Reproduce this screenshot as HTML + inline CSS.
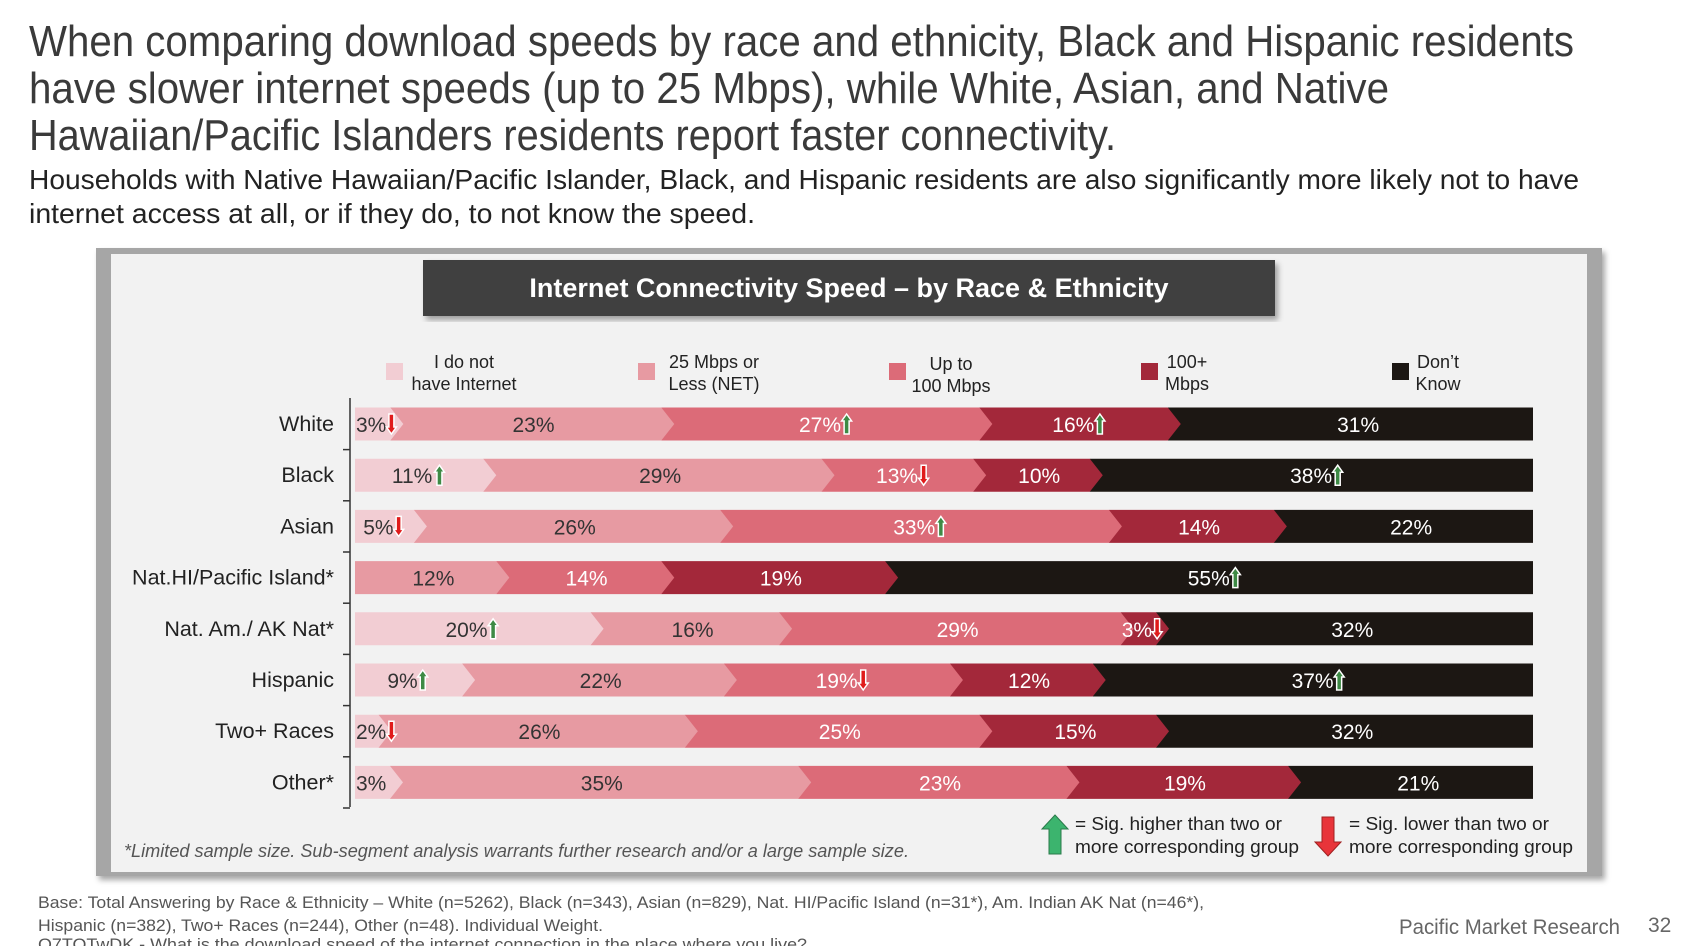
<!DOCTYPE html>
<html><head><meta charset="utf-8"><style>
html,body{margin:0;padding:0;background:#fff;}
svg{display:block;font-family:"Liberation Sans",Arial,sans-serif;}
</style></head><body>
<svg id="s" width="1696" height="946" viewBox="0 0 1696 946" xmlns="http://www.w3.org/2000/svg">
<defs>
<filter id="sh" x="-5%" y="-5%" width="110%" height="115%"><feDropShadow dx="3" dy="4" stdDeviation="3" flood-color="#000" flood-opacity="0.35"/></filter>
</defs>
<g fill="#3a3a3a" font-size="44">
<text x="29" y="56" textLength="1545" lengthAdjust="spacingAndGlyphs">When comparing download speeds by race and ethnicity, Black and Hispanic residents</text>
<text x="29" y="103" textLength="1360" lengthAdjust="spacingAndGlyphs">have slower internet speeds (up to 25 Mbps), while White, Asian, and Native</text>
<text x="29" y="150" textLength="1087" lengthAdjust="spacingAndGlyphs">Hawaiian/Pacific Islanders residents report faster connectivity.</text>
</g>
<g fill="#222" font-size="28">
<text x="29" y="189" textLength="1550" lengthAdjust="spacingAndGlyphs">Households with Native Hawaiian/Pacific Islander, Black, and Hispanic residents are also significantly more likely not to have</text>
<text x="29" y="223" textLength="726" lengthAdjust="spacingAndGlyphs">internet access at all, or if they do, to not know the speed.</text>
</g>
<rect x="96" y="248" width="1506" height="628" fill="#a6a6a6" filter="url(#sh)"/>
<rect x="111" y="254" width="1476" height="618" fill="#f2f2f2"/>
<rect x="423" y="260" width="852" height="56" fill="#404040" filter="url(#sh)"/>
<text x="849" y="297" fill="#fff" font-size="27" font-weight="bold" text-anchor="middle">Internet Connectivity Speed – by Race &amp; Ethnicity</text>
<g id="leg" font-size="18" fill="#222" text-anchor="middle"></g>
<line x1="350" y1="398" x2="350" y2="807" stroke="#333" stroke-width="1.5"/>
<g id="bars"></g>
<text x="124" y="857" fill="#555" font-size="18" font-style="italic" textLength="785" lengthAdjust="spacingAndGlyphs">*Limited sample size. Sub-segment analysis warrants further research and/or a large sample size.</text>
<polygon points="1055,815 1068,829 1061,829 1061,854 1049,854 1049,829 1042,829" fill="#3cb46e" stroke="#2a7a4a" stroke-width="1"/>
<polygon points="1328,856 1341,842 1334,842 1334,817 1322,817 1322,842 1315,842" fill="#e8343a" stroke="#a02020" stroke-width="1"/>
<g font-size="18.5" fill="#222">
<text x="1075" y="830" textLength="207" lengthAdjust="spacingAndGlyphs">= Sig. higher than two or</text>
<text x="1075" y="853" textLength="224" lengthAdjust="spacingAndGlyphs">more corresponding group</text>
<text x="1349" y="830" textLength="200" lengthAdjust="spacingAndGlyphs">= Sig. lower than two or</text>
<text x="1349" y="853" textLength="224" lengthAdjust="spacingAndGlyphs">more corresponding group</text>
</g>
<g font-size="16.5" fill="#555">
<text x="38" y="908" textLength="1166" lengthAdjust="spacingAndGlyphs">Base: Total Answering by Race &amp; Ethnicity – White (n=5262), Black (n=343), Asian (n=829), Nat. HI/Pacific Island (n=31*), Am. Indian AK Nat  (n=46*),</text>
<text x="38" y="931" textLength="565" lengthAdjust="spacingAndGlyphs">Hispanic (n=382), Two+ Races (n=244), Other (n=48). Individual Weight.</text>
<text x="38" y="950" textLength="769" lengthAdjust="spacingAndGlyphs">Q7TOTwDK  - What is the download speed of the internet connection in the place where you live?</text>
</g>
<text x="1399" y="934" fill="#666" font-size="21" textLength="221" lengthAdjust="spacingAndGlyphs">Pacific Market Research</text>
<text x="1648" y="932" fill="#666" font-size="21">32</text>
</svg>
<script>
const NS="http://www.w3.org/2000/svg";
function el(t,a,p,txt){const e=document.createElementNS(NS,t);for(const k in a)e.setAttribute(k,a[k]);if(txt!=null)e.textContent=txt;p.appendChild(e);return e;}
const C=["#f2cdd3","#e79aa2","#dc6b78","#a3283a","#1c1713"];
const TC=["#333","#333","#fff","#fff","#fff"];
const leg=document.getElementById("leg");
const L=[[386,464,"I do not","have Internet"],[638,714,"25 Mbps or","Less (NET)"],[889,951,"Up to","100 Mbps"],[1141,1187,"100+","Mbps"],[1392,1438,"Don’t","Know"]];
L.forEach((l,i)=>{el("rect",{x:l[0],y:363,width:17,height:17,fill:C[i]},leg);
el("text",{x:l[1],y:i==2?370:368},leg,l[2]);el("text",{x:l[1],y:i==2?392:390},leg,l[3]);});
const rows=[
["White",[3,23,27,16,31],["d",0,"u","u",0]],
["Black",[11,29,13,10,38],["u",0,"d",0,"u"]],
["Asian",[5,26,33,14,22],["d",0,"u",0,0]],
["Nat.HI/Pacific Island*",[0,12,14,19,55],[0,0,0,0,"u"]],
["Nat. Am./ AK Nat*",[20,16,29,3,32],["u",0,0,"d",0]],
["Hispanic",[9,22,19,12,37],["u",0,"d",0,"u"]],
["Two+ Races",[2,26,25,15,32],["d",0,0,0,0]],
["Other*",[3,35,23,19,21],[0,0,0,0,0]]];
const g=document.getElementById("bars");
const X0=355,W=1178,H=33,D=13;
function arrow(x,cy,dir){
 const h=20,w=10,hw=5;let pts;
 const t=cy-h/2,b=cy+h/2;
 if(dir=="u"){pts=[[x+hw,t],[x+w,t+7],[x+hw+2.5,t+7],[x+hw+2.5,b],[x+hw-2.5,b],[x+hw-2.5,t+7],[x,t+7]];
  el("polygon",{points:pts.map(p=>p.join(",")).join(" "),fill:"#3e8a45",stroke:"#fff","stroke-width":1.5},g);}
 else{pts=[[x+hw,b],[x+w,b-7],[x+hw+2.5,b-7],[x+hw+2.5,t],[x+hw-2.5,t],[x+hw-2.5,b-7],[x,b-7]];
  el("polygon",{points:pts.map(p=>p.join(",")).join(" "),fill:"#e01b1b",stroke:"#fff","stroke-width":1.5},g);}
}
rows.forEach((r,i)=>{
 const cy=424+51.2*i,top=cy-H/2,bot=cy+H/2;
 el("text",{x:334,y:cy+7,"font-size":21.5,fill:"#222","text-anchor":"end"},g,r[0]);
 el("line",{x1:343,y1:cy+25.6,x2:350,y2:cy+25.6,stroke:"#333","stroke-width":1.5},g);
 const v=r[1],sum=v.reduce((a,b)=>a+b,0);
 const xs=[X0];v.forEach(x=>xs.push(xs[xs.length-1]+x/sum*W));
 for(let k=4;k>=0;k--){ if(!v[k])continue;
  const a=xs[k],b=xs[k+1];
  const p=k==4?`${a},${top} ${b},${top} ${b},${bot} ${a},${bot}`:`${a},${top} ${b},${top} ${b+D},${cy} ${b},${bot} ${a},${bot}`;
  el("polygon",{points:p,fill:C[k]},g);}
 for(let k=0;k<5;k++){ if(!v[k])continue;
  const a=xs[k],b=xs[k+1];const lab=v[k]+"%";const tw=lab.length*12.2+2;
  const hasA=r[2][k];const tot=tw+(hasA?16:0);
  let sx=(v[k]<=3)?a+1:(a+b)/2-tot/2+(k>0?6:0);
  el("text",{x:sx,y:cy+8,"font-size":21,fill:TC[k]},g,lab);
  if(hasA)arrow(sx+tw+4,cy,hasA);
 }
});
</script>
</body></html>
